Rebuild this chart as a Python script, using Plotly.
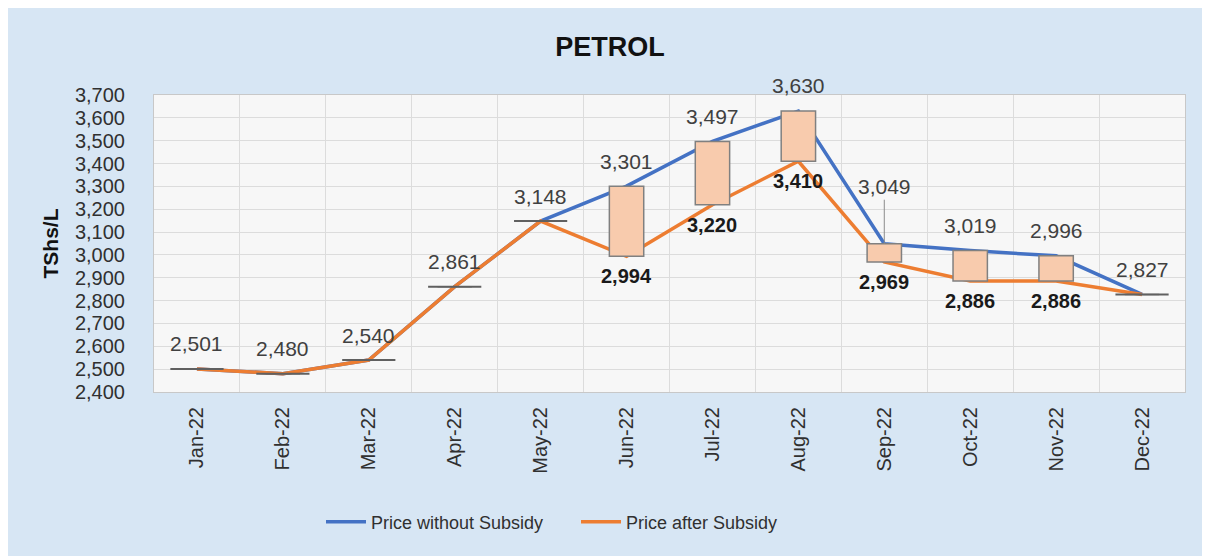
import plotly.graph_objects as go

months = ["Jan-22", "Feb-22", "Mar-22", "Apr-22", "May-22", "Jun-22",
          "Jul-22", "Aug-22", "Sep-22", "Oct-22", "Nov-22", "Dec-22"]
price_without = [2501, 2480, 2540, 2861, 3148, 3301, 3497, 3630, 3049, 3019, 2996, 2827]
price_after = [2501, 2480, 2540, 2861, 3148, 2994, 3220, 3410, 2969, 2886, 2886, 2827]

Y_MIN, Y_MAX, Y_STEP = 2400, 3700, 100

W, H = 1210, 556
L, R, T, B = 146, 33, 87, 172
pw, ph = W - L - R, H - T - B

FONT = "Arial, 'Liberation Sans', sans-serif"
BLUE = "#4472C4"
ORANGE = "#ED7D31"

fig = go.Figure()

fig.add_trace(go.Scatter(x=months, y=price_without, mode="lines", name="Price without Subsidy",
                         line=dict(color=BLUE, width=3.5), hoverinfo="skip"))
fig.add_trace(go.Scatter(x=months, y=price_after, mode="lines", name="Price after Subsidy",
                         line=dict(color=ORANGE, width=3.5), hoverinfo="skip"))

diff = [w - a for w, a in zip(price_without, price_after)]
fig.add_trace(go.Bar(x=months, y=diff, base=price_after, yaxis="y2", width=0.4,
                     marker=dict(color="#F8CBAD", line=dict(color="#808080", width=1.5)),
                     showlegend=False, hoverinfo="skip"))

eq_x = [m for m, d in zip(months, diff) if d == 0]
eq_y = [w for w, d in zip(price_without, diff) if d == 0]
fig.add_trace(go.Scatter(x=eq_x, y=eq_y, yaxis="y2", mode="markers",
                         marker=dict(symbol="line-ew", size=38, color="#606060",
                                     line=dict(color="#606060", width=2)),
                         showlegend=False, hoverinfo="skip"))

# data labels
for m, w, a in zip(months, price_without, price_after):
    if m == "Sep-22":
        fig.add_annotation(x=m, y=w, text=f"{w:,}", showarrow=True, arrowhead=0,
                           arrowcolor="#8c8c8c", arrowwidth=1, ax=0, ay=-57,
                           font=dict(size=21, color="#404040", family=FONT))
    else:
        fig.add_annotation(x=m, y=w, text=f"{w:,}", showarrow=False, yshift=25,
                           font=dict(size=21, color="#404040", family=FONT))
    if w != a:
        fig.add_annotation(x=m, y=a, text=f"<b>{a:,}</b>", showarrow=False, yshift=-20,
                           font=dict(size=20, color="#1a1a1a", family=FONT))

fig.update_layout(
    width=W, height=H,
    margin=dict(l=L, r=R, t=T, b=B),
    paper_bgcolor="#D7E6F4",
    plot_bgcolor="#F7F7F7",
    font=dict(family=FONT, color="#404040"),
    title=dict(text="<b>PETROL</b>", x=(610 - 8) / W, xref="container", xanchor="center",
               y=1 - 39 / H, yref="container", yanchor="middle",
               font=dict(size=27, color="#111111", family=FONT)),
    xaxis=dict(type="category", range=[-0.5, len(months) - 0.5], tickson="boundaries",
               ticks="", tickangle=-90,
               showgrid=True, gridcolor="#DCDCDC", gridwidth=1,
               showline=True, linecolor="#C8C8C8", mirror=True,
               tickfont=dict(size=20, color="#303030"), ticklabelstandoff=6),
    yaxis=dict(range=[Y_MIN, Y_MAX], dtick=Y_STEP, tickformat=",d",
               showgrid=True, gridcolor="#DCDCDC", gridwidth=1,
               showline=True, linecolor="#C8C8C8", mirror=True, zeroline=False,
               tickfont=dict(size=20, color="#303030"), ticklabelstandoff=24,
               title=dict(text="<b>TShs/L</b>", font=dict(size=21, color="#111111"), standoff=10)),
    yaxis2=dict(range=[Y_MIN, Y_MAX], overlaying="y", visible=False),
    showlegend=True,
    legend=dict(orientation="h", x=(327 - 8 - 6 - L) / pw, xanchor="left",
                y=(H - B - 514) / ph, yanchor="middle",
                bgcolor="rgba(0,0,0,0)", font=dict(size=18, color="#303030"),
                itemwidth=40, entrywidth=200, entrywidthmode="pixels"),
    bargap=0.6,
)

fig.write_html("out.html")
